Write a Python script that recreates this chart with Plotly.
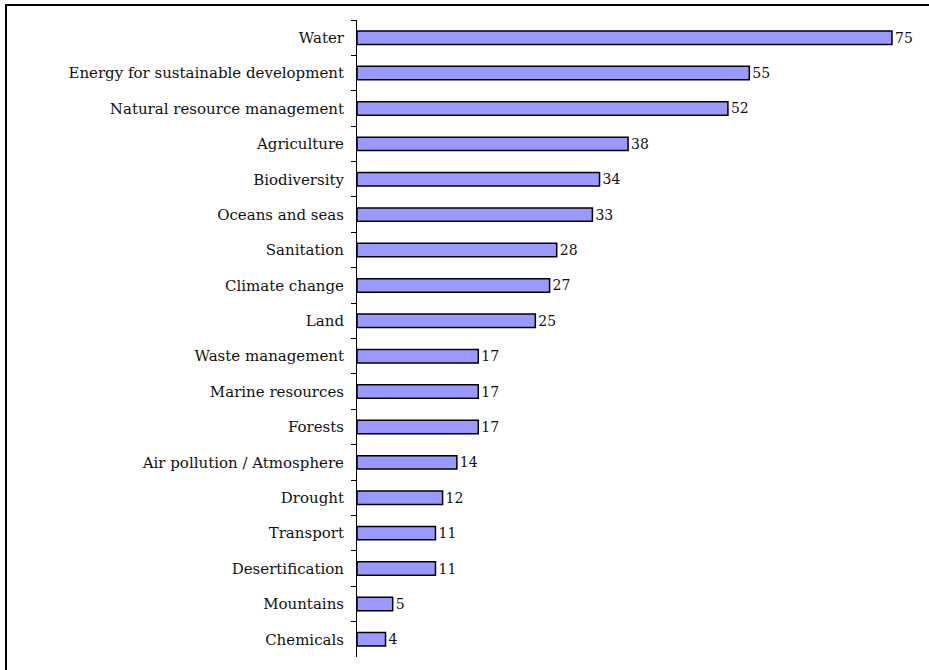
import plotly.graph_objects as go

categories = ["Water", "Energy for sustainable development", "Natural resource management",
              "Agriculture", "Biodiversity", "Oceans and seas", "Sanitation", "Climate change",
              "Land", "Waste management", "Marine resources", "Forests",
              "Air pollution / Atmosphere", "Drought", "Transport", "Desertification",
              "Mountains", "Chemicals"]
values = [75, 55, 52, 38, 34, 33, 28, 27, 25, 17, 17, 17, 14, 12, 11, 11, 5, 4]

W, H = 929, 670
L, R, T, B = 357, 913, 20, 657
pw, ph = R - L, B - T

font = dict(family="DejaVu Serif", size=15, color="#111111")

fig = go.Figure(go.Bar(
    x=values, y=categories, orientation="h",
    marker=dict(color="#9999FF", line=dict(color="#000000", width=1.5)),
    width=0.38,
    text=[str(v) for v in values], textposition="outside",
    textfont=dict(family="DejaVu Serif", size=14, color="#111111"),
    constraintext="none",
    cliponaxis=False,
))

fig.update_layout(
    width=W, height=H,
    margin=dict(l=L, r=W - R, t=T, b=H - B, pad=0),
    paper_bgcolor="white", plot_bgcolor="white",
    showlegend=False,
    font=font,
    uniformtext=dict(mode=False),
    xaxis=dict(range=[0, 556 / 7.133], visible=False, fixedrange=True),
    yaxis=dict(autorange="reversed", showline=True, linecolor="#000000", linewidth=1,
               ticks="outside", ticklen=5, tickcolor="#000000", tickson="boundaries",
               ticklabelstandoff=9, showgrid=False, zeroline=False,
               tickfont=font),
    shapes=[dict(type="rect", xref="paper", yref="paper",
                 x0=(6 - L) / pw, x1=(W + 10 - L) / pw,
                 y0=-(H + 10 - B) / ph, y1=1 + (T - 5) / ph,
                 line=dict(color="#000000", width=2), fillcolor="rgba(0,0,0,0)")],
)

fig.write_html("out.html")
